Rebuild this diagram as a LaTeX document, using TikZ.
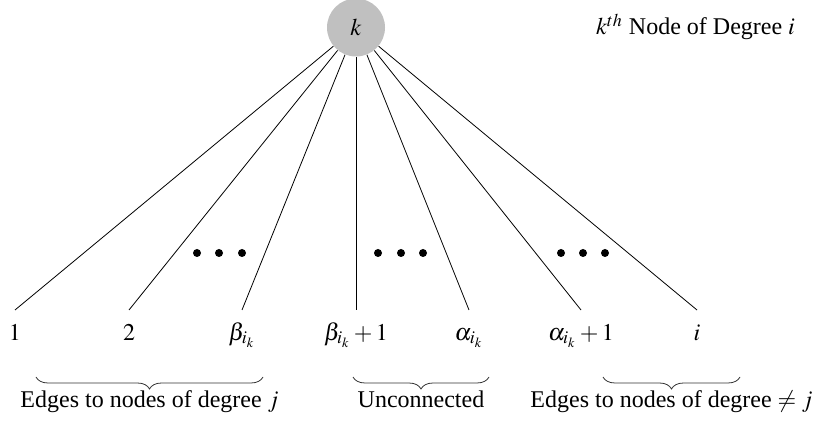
\documentclass[tikz,border=0pt]{standalone}
\usepackage{mathptmx}
\usepackage{fontspec}
\setmainfont{Liberation Serif}
\usetikzlibrary{positioning, decorations.pathreplacing}
\definecolor{NodeGray}{RGB}{192, 192, 192}

\begin{document}
\begin{tikzpicture}[x=0.5pt, y=-0.5pt,
      every node/.style={font=\fontsize{12}{14}\selectfont},
      vertex/.style={circle, fill=NodeGray, minimum size=29pt, inner sep=0pt},
      endpoint/.style={anchor=north, inner xsep=1pt, inner ysep=7pt, text height=8pt, text depth=4pt},
      brace/.style={decorate, decoration={brace, mirror, amplitude=6pt}, draw=black!80},
      dot/.style={fill=black}
    ]
      \useasboundingbox (0,0) rectangle (835,421);

      \node[vertex] (k) at (356,27.5) {$k$};
      \node[anchor=base] (title) at (695.5,35) {$k^{th}$ Node of Degree $i$};

      \node[endpoint] (e1) at (15,310) {$1$};
      \node[endpoint] (e2) at (129,310) {$2$};
      \node[endpoint] (eb) at (242,310) {$\beta_{i_k}$};
      \node[endpoint] (ebp) at (356,310) {$\beta_{i_k}+1$};
      \node[endpoint] (ea) at (469,310) {$\alpha_{i_k}$};
      \node[endpoint] (eap) at (581,310) {$\alpha_{i_k}+1$};
      \node[endpoint] (ei) at (697,310) {$i$};

      \foreach \e in {e1, e2, eb, ebp, ea, eap, ei}
        \draw (k) -- (\e.north);

      % dots between the edges
      \foreach \x in {197, 219, 242, 378, 401, 423, 561, 583, 605}
        \fill[dot] (\x,253) circle (2pt);

      \coordinate (b1l) at (36,377);
      \coordinate (b1r) at (263,377);
      \coordinate (b2l) at (353,377);
      \coordinate (b2r) at (489,377);
      \coordinate (b3l) at (603,377);
      \coordinate (b3r) at (740,377);

      \draw[brace] (b1l) -- (b1r) node[midway, below=3.5pt] (t1) {Edges to nodes of degree $j$};
      \draw[brace] (b2l) -- (b2r) node[midway, below=3.5pt] (t2) {Unconnected};
      \draw[brace] (b3l) -- (b3r) node[midway, below=3.5pt] (t3) {Edges to nodes of degree $\neq j$};
    \end{tikzpicture}
\end{document}
